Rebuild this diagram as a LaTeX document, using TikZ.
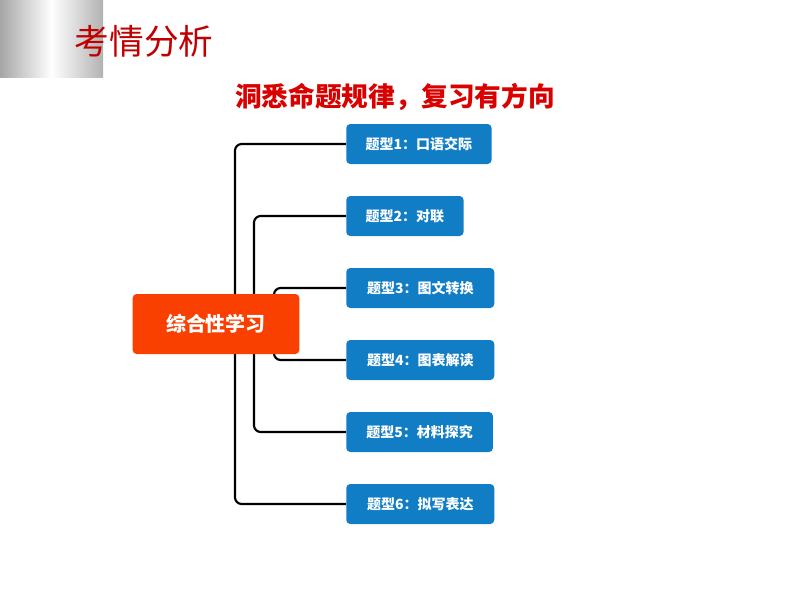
\documentclass[tikz,border=0pt]{standalone}
\usepackage{fontspec}
\setmainfont{Noto Sans CJK SC}
\usetikzlibrary{positioning}
\definecolor{topicblue}{RGB}{16,125,196}
\definecolor{rootred}{RGB}{250,64,0}
\definecolor{titlered}{RGB}{192,0,0}
\tikzset{topic/.style={draw=none,fill=topicblue,rounded corners=3pt,text=white,
		font=\bfseries\fontsize{10.5}{12}\selectfont,minimum height=30pt,inner xsep=12pt,anchor=west},
	branch/.style={line width=1.6pt,rounded corners=5pt}}
\begin{document}
\begin{tikzpicture}[x=0.75pt,y=-0.75pt]
	\useasboundingbox (0,0) rectangle (794,596);
	\shade[left color=gray!70,right color=gray!60,middle color=white] (0,0) rectangle (103,77);
	\node[anchor=west,text=titlered,font=\fontsize{26}{30}\selectfont] (title) at (70,41) {考情分析};
	\node[text=red!85!black,font=\bfseries\fontsize{20}{24}\selectfont] (sub) at (395,97) {洞悉命题规律，复习有方向};
	\coordinate (rc) at (216,324);
	\coordinate (t1) at (235,0);
	\coordinate (t2) at (254,0);
	\coordinate (t3) at (274,0);
	% topic boxes
	\node[topic,minimum width=109pt] (b1) at (346,144) {题型1：口语交际};
	\node[topic,minimum width=88pt] (b2) at (346,216) {题型2：对联};
	\node[topic,minimum width=111pt] (b3) at (346,288) {题型3：图文转换};
	\node[topic,minimum width=111pt] (b4) at (346,360) {题型4：图表解读};
	\node[topic,minimum width=110pt] (b5) at (346,432) {题型5：材料探究};
	\node[topic,minimum width=111pt] (b6) at (346,504) {题型6：拟写表达};
	% branches
	\draw[branch] (b1.west) -- (b1.west -| t1) -- (rc -| t1);
	\draw[branch] (b6.west) -- (b6.west -| t1) -- (rc -| t1);
	\draw[branch] (b2.west) -- (b2.west -| t2) -- (rc -| t2);
	\draw[branch] (b5.west) -- (b5.west -| t2) -- (rc -| t2);
	\draw[branch] (b3.west) -- (b3.west -| t3) -- (rc -| t3);
	\draw[branch] (b4.west) -- (b4.west -| t3) -- (rc -| t3);
	\node[fill=rootred,text=white,rounded corners=3pt,minimum width=125pt,minimum height=45pt,
		font=\bfseries\fontsize{15}{18}\selectfont] (root) at (rc) {综合性学习};
\end{tikzpicture}
\end{document}
